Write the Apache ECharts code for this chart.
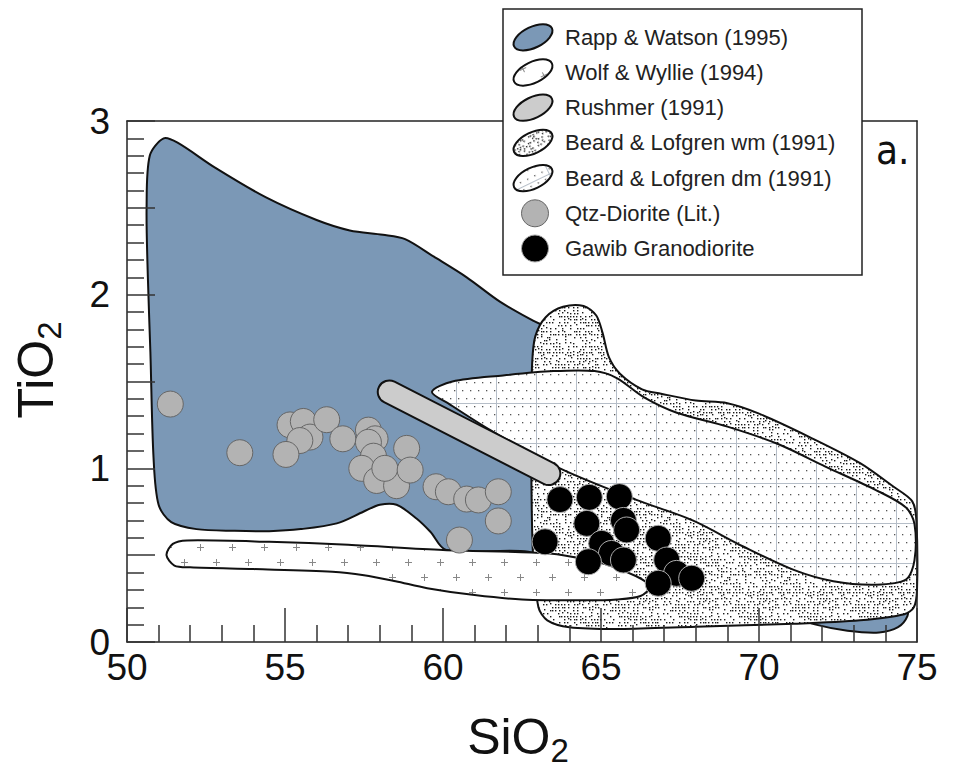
<!DOCTYPE html>
<html><head><meta charset="utf-8">
<script src="https://cdn.jsdelivr.net/npm/echarts@6/dist/echarts.min.js"></script>
<style>html,body{margin:0;padding:0;background:#fff}#c{width:960px;height:769px}</style>
</head><body><div id="c"></div>
<script>
// ---------- data ----------
const xTickLabels = [50, 55, 60, 65, 70, 75];
const yTickLabels = [0, 1, 2, 3];
const xTitle = ['SiO', '2'];
const yTitle = ['TiO', '2'];
const panelLabel = 'a.';
const legendLabels = ['Rapp & Watson (1995)', 'Wolf & Wyllie (1994)', 'Rushmer (1991)',
  'Beard & Lofgren wm (1991)', 'Beard & Lofgren dm (1991)', 'Qtz-Diorite (Lit.)', 'Gawib Granodiorite'];

const rappWatson = [
  [51.16,2.90],[51.6,2.875],[52.8,2.73],[54.4,2.56],[56.0,2.43],[57.05,2.37],[58.1,2.345],[58.8,2.32],
  [59.7,2.22],[60.75,2.10],[61.8,1.96],[62.85,1.85],[63.4,1.80],
  [64.5,1.6],[70,1.0],[74.5,0.5],[74.7,0.22],[74.7,0.15],[74.4,0.085],[73.8,0.055],[72.8,0.065],[71.8,0.10],
  [70,0.2],[65,0.3],[63.5,0.45],
  [62.7,0.52],[60.1,0.53],[59.6,0.635],[59.17,0.71],[58.53,0.79],[58.0,0.79],[57.48,0.75],[56.64,0.683],
  [55.5,0.65],[54.5,0.638],[53.4,0.64],[52.2,0.65],[51.4,0.69],[51.0,0.79],[50.84,1.06],[50.74,1.67],
  [50.66,2.1],[50.62,2.5],[50.72,2.8]
];
const wolfWyllie = [
  [51.25,0.50],[51.45,0.565],[51.9,0.585],[54.5,0.577],[57.0,0.56],[60.0,0.53],[62.8,0.515],[63.8,0.50],
  [65.1,0.45],[66.1,0.38],[66.55,0.32],[66.25,0.265],[65.5,0.245],[64.5,0.24],[62.5,0.245],[61.0,0.27],
  [59.5,0.31],[58.5,0.35],[57.5,0.385],[56.5,0.405],[54.0,0.42],[52.0,0.43],[51.5,0.44]
];
const rushmer = [[58.3,1.44],[63.35,0.97]];
const beardWm = [
  [62.85,0.5],[62.8,0.9],[62.8,1.3],[62.82,1.6],[62.92,1.76],[63.25,1.87],[63.8,1.93],[64.45,1.935],
  [64.85,1.88],[65.05,1.78],[65.25,1.64],[65.6,1.545],[66.3,1.455],[66.9,1.43],[68.0,1.39],[69.0,1.375],
  [70.0,1.315],[71.6,1.18],[73.2,1.03],[74.25,0.895],[74.85,0.81],[74.98,0.7],[75.0,0.3],[74.9,0.2],
  [74.6,0.16],[73.2,0.125],[71.1,0.105],[68.0,0.088],[65.6,0.075],[64.0,0.085],[63.3,0.125],[63.02,0.2]
];
const beardDm = [
  [59.65,1.44],[60.3,1.50],[61.9,1.535],[63.5,1.56],[64.8,1.56],[65.5,1.52],[66.35,1.41],[67.4,1.32],
  [69.0,1.24],[70.6,1.14],[72.1,1.01],[73.7,0.875],[74.65,0.775],[74.92,0.68],[74.92,0.47],[74.65,0.36],
  [73.7,0.33],[72.35,0.35],[71.1,0.415],[69.5,0.55],[67.9,0.70],[66.1,0.82],[63.7,1.0],[61.5,1.22],[60.2,1.37]
];
const qtzDiorite = [
  [51.37,1.37],[53.57,1.09],
  [55.16,1.25],[55.58,1.27],[55.79,1.18],[55.47,1.16],[55.03,1.08],
  [56.32,1.28],[56.83,1.17],[57.64,1.22],[57.85,1.17],[57.64,1.15],[57.8,1.07],
  [57.43,1.0],[57.9,0.93],[58.53,0.90],[58.16,1.0],[58.85,1.115],[58.96,0.99],
  [59.78,0.894],[60.17,0.865],[60.75,0.823],[61.12,0.818],[61.75,0.865],[61.75,0.697],[60.52,0.587]
];
const gawib = [
  [63.70,0.82],[64.63,0.833],[65.58,0.837],[64.55,0.683],[65.71,0.70],[65.81,0.645],[63.23,0.577],
  [65.02,0.568],[65.33,0.51],[65.71,0.472],[64.6,0.462],[66.81,0.597],[67.08,0.472],[67.39,0.395],
  [67.87,0.367],[66.81,0.338]
];

// ---------- textures ----------
function frac(v){ return v - Math.floor(v); }
function makeCanvas(w, h, draw){
  const c = document.createElement('canvas'); c.width = w; c.height = h;
  const g = c.getContext('2d'); g.fillStyle = '#fff'; g.fillRect(0, 0, w, h); draw(g); return c;
}
const wmCanvas = makeCanvas(60, 60, g => {
  g.fillStyle = '#1a1a1a';
  for (let j = 0; j < 20; j++) for (let i = 0; i < 20; i++) {
    const h1 = frac(Math.sin(i * 12.9898 + j * 78.233) * 43758.5453);
    const h2 = frac(Math.sin(i * 39.35 + j * 11.13) * 24634.63);
    if (h1 < 0.4) continue;
    g.fillRect(i * 3 + Math.floor(h2 * 2), j * 3 + Math.floor(h1 * 2), 1.4, 1.4);
  }
});
const dmCanvas = makeCanvas(40, 40, g => {
  g.strokeStyle = '#b6bec8'; g.lineWidth = 1;
  g.beginPath(); g.moveTo(16.5, 0); g.lineTo(16.5, 40); g.moveTo(0, 3.5); g.lineTo(40, 3.5); g.stroke();
  g.fillStyle = '#555';
  for (let j = 0; j < 5; j++) for (let i = 0; i < 5; i++) g.fillRect(2 + i * 8 + (j % 2) * 4, 6 + j * 8, 1.3, 1.3);
});
const wwCanvas = makeCanvas(32, 30, g => {
  g.strokeStyle = '#888'; g.lineWidth = 1;
  [[8, 7], [24, 22]].forEach(([x, y]) => {
    g.beginPath(); g.moveTo(x - 3, y + 0.5); g.lineTo(x + 4, y + 0.5);
    g.moveTo(x + 0.5, y - 3); g.lineTo(x + 0.5, y + 4); g.stroke();
  });
});
const pat = (c) => ({ image: c, repeat: 'repeat', imageWidth: c.width, imageHeight: c.height });

const BLUE = '#7b98b6';
const fills = [BLUE, pat(wwCanvas), '#cccccc', pat(wmCanvas), pat(dmCanvas)];

function regionSeries(name, pts, fill, z){
  return {
    type: 'custom', name, z, silent: true, coordinateSystem: 'cartesian2d',
    data: pts, encode: { x: 0, y: 1 },
    renderItem(params, api){
      if (params.dataIndex !== 0) return null;
      return { type: 'polygon', shape: { points: pts.map(p => api.coord(p)), smooth: 0.3 },
        style: { fill, stroke: '#111', lineWidth: 2 } };
    }
  };
}
function capsuleSeries(name, pts, z){
  return {
    type: 'custom', name, z, silent: true, coordinateSystem: 'cartesian2d',
    data: pts, encode: { x: 0, y: 1 },
    renderItem(params, api){
      if (params.dataIndex !== 0) return null;
      const p = pts.map(q => api.coord(q));
      return { type: 'group', children: [
        { type: 'polyline', shape: { points: p }, style: { stroke: '#111', lineWidth: 25, lineCap: 'round', fill: null } },
        { type: 'polyline', shape: { points: p }, style: { stroke: '#cccccc', lineWidth: 21, lineCap: 'round', fill: null } }
      ]};
    }
  };
}

const FONT = "'Liberation Sans', Arial, sans-serif";
const TICKFONT = "'Liberation Sans Narrow', 'Liberation Sans', Arial, sans-serif";
const tickStyle = { color: '#333', width: 1.5 };

// ---------- legend graphic ----------
const legendEls = [
  { type: 'rect', z: 100, shape: { x: 503, y: 9, width: 359, height: 266 }, style: { fill: '#fff', stroke: '#222', lineWidth: 1.5 } }
];
legendLabels.forEach((lab, i) => {
  const cy = 37.3 + i * 35.2;
  if (i < 5) {
    legendEls.push({ type: 'ellipse', z: 101, x: 533, y: cy, rotation: 0.45,
      shape: { cx: 0, cy: 0, rx: 21, ry: 10.5 }, style: { fill: fills[i], stroke: '#111', lineWidth: 2 } });
  } else {
    legendEls.push({ type: 'circle', z: 101, shape: { cx: 535, cy: cy, r: 13.5 },
      style: i === 5 ? { fill: '#b3b3b3', stroke: '#666', lineWidth: 1 } : { fill: '#000', stroke: '#aaa', lineWidth: 1 } });
  }
  legendEls.push({ type: 'text', z: 101, x: 565, y: cy,
    style: { text: lab, fontSize: 22, fontFamily: FONT, fill: '#222', verticalAlign: 'middle', align: 'left' } });
});
const titleRich = {
  a: { fontSize: 50, fontFamily: FONT, lineHeight: 60, fill: '#111' },
  b: { fontSize: 33, fontFamily: FONT, lineHeight: 30, verticalAlign: 'bottom', fill: '#111' }
};
const titleEls = [
  { type: 'text', z: 50, x: 518, y: 737, style: { text: '{a|' + xTitle[0] + '}{b|' + xTitle[1] + '}', rich: titleRich, align: 'center', verticalAlign: 'middle' } },
  { type: 'text', z: 50, x: 36, y: 370, rotation: Math.PI / 2, style: { text: '{a|' + yTitle[0] + '}{b|' + yTitle[1] + '}', rich: titleRich, align: 'center', verticalAlign: 'middle' } },
  { type: 'text', z: 50, x: 876, y: 150, style: { text: panelLabel, fontSize: 40, fontFamily: "'DejaVu Sans Condensed', 'DejaVu Sans', sans-serif", fill: '#111', verticalAlign: 'middle', align: 'left' } }
];

const chart = echarts.init(document.getElementById('c'), null, { renderer: 'svg', width: 960, height: 769 });
chart.setOption({
  animation: false,
  backgroundColor: '#fff',
  grid: { left: 127, right: 43, top: 121, bottom: 127 },
  xAxis: [{
    type: 'value', min: 50, max: 75, interval: 5, position: 'bottom', z: 10,
    axisLine: { show: true, onZero: false, lineStyle: { color: '#222', width: 1.5 } },
    axisTick: { show: true, inside: true, length: 34, lineStyle: tickStyle },
    minorTick: { show: true, splitNumber: 5, length: 17, lineStyle: tickStyle },
    splitLine: { show: false },
    axisLabel: { margin: 7, fontSize: 37, color: '#111', fontFamily: TICKFONT,
      formatter: v => xTickLabels.includes(v) ? String(v) : '' }
  }, {
    type: 'value', min: 50, max: 75, position: 'top', z: 10,
    axisLine: { show: true, onZero: false, lineStyle: { color: '#222', width: 1.5 } },
    axisTick: { show: false }, axisLabel: { show: false }, splitLine: { show: false }
  }],
  yAxis: [{
    type: 'value', min: 0, max: 3, interval: 0.5, position: 'left', z: 10,
    axisLine: { show: true, onZero: false, lineStyle: { color: '#222', width: 1.5 } },
    axisTick: { show: true, inside: true, length: 28, lineStyle: tickStyle },
    minorTick: { show: true, splitNumber: 5, length: 17, lineStyle: tickStyle },
    splitLine: { show: false },
    axisLabel: { margin: 17, fontSize: 37, color: '#111', fontFamily: TICKFONT,
      formatter: v => yTickLabels.includes(v) ? String(v) : '' }
  }, {
    type: 'value', min: 0, max: 3, position: 'right', z: 10,
    axisLine: { show: true, onZero: false, lineStyle: { color: '#222', width: 1.5 } },
    axisTick: { show: false }, axisLabel: { show: false }, splitLine: { show: false }
  }],
  series: [
    regionSeries(legendLabels[0], rappWatson, fills[0], 1),
    regionSeries(legendLabels[3], beardWm, fills[3], 2),
    regionSeries(legendLabels[4], beardDm, fills[4], 3),
    capsuleSeries(legendLabels[2], rushmer, 4),
    regionSeries(legendLabels[1], wolfWyllie, fills[1], 5),
    { type: 'scatter', name: legendLabels[5], z: 6, data: qtzDiorite, symbol: 'circle', symbolSize: 26, silent: true,
      itemStyle: { color: '#b3b3b3', borderColor: '#666', borderWidth: 1, opacity: 1 } },
    { type: 'scatter', name: legendLabels[6], z: 7, data: gawib, symbol: 'circle', symbolSize: 26, silent: true,
      itemStyle: { color: '#000', borderColor: '#aaa', borderWidth: 1, opacity: 1 } }
  ],
  graphic: legendEls.concat(titleEls)
});
</script>
</body></html>
